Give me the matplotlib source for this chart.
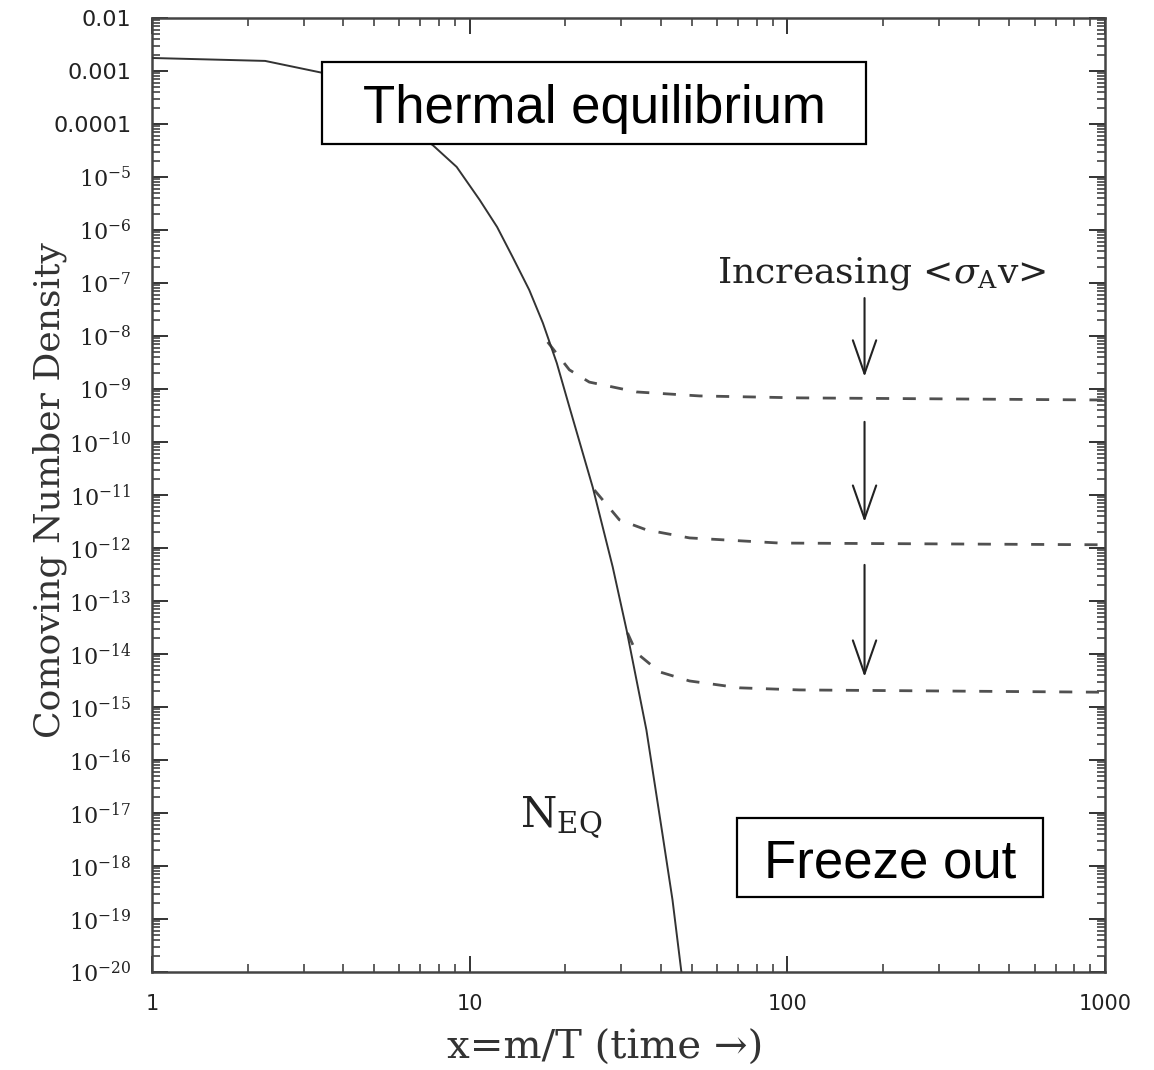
import numpy as np
import matplotlib
matplotlib.use("Agg")
import matplotlib.pyplot as plt
from matplotlib.patches import Rectangle
from matplotlib.ticker import LogLocator, NullFormatter

plt.rcParams["mathtext.fontset"] = "dejavuserif"

# equilibrium density N_EQ
neq_x = [1.0, 2.27, 3.45, 7.65, 9.10, 10.75, 12.2, 13.65, 15.4, 17.0, 18.8, 20.6,
         24.4, 28.2, 31.2, 36.0, 40.4, 43.5, 46.4]
neq_y = [1.76e-3, 1.55e-3, 9.2e-4, 4.0e-5, 1.55e-5, 3.7e-6, 1.14e-6, 3.1e-7, 7.4e-8,
         1.76e-8, 3.1e-9, 4.6e-10, 1.4e-11, 4.4e-13, 2.8e-14, 3.7e-16, 4.2e-18,
         2.3e-19, 1e-20]

# freeze-out branches, smallest <sigma v> first
fo1_x = [17.6, 20.6, 23.8, 33.5, 52.9, 109, 1000]
fo1_y = [7.7e-9, 2.3e-9, 1.35e-9, 8.8e-10, 7.4e-10, 6.8e-10, 6.2e-10]
fo2_x = [24.7, 29.6, 36.0, 49.2, 94.4, 1000]
fo2_y = [1.24e-11, 3.4e-12, 2.2e-12, 1.55e-12, 1.24e-12, 1.15e-12]
fo3_x = [31.4, 33.5, 39.6, 49.2, 70.7, 109, 1000]
fo3_y = [2.5e-14, 1.05e-14, 4.6e-15, 3.1e-15, 2.3e-15, 2.1e-15, 1.9e-15]

# arrows "increasing <sigma v>"
arrow_x = 175
arrow_top = [5.2e-8, 2.4e-10, 4.8e-13]
arrow_tip = [1.7e-9, 3.1e-12, 3.7e-15]

x_ticks = [1, 10, 100, 1000]
x_ticklabels = ["1", "10", "100", "1000"]
y_exps = list(range(-2, -21, -1))
y_ticklabels = ["0.01", "0.001", "0.0001"] + [r"$10^{%d}$" % e for e in y_exps[3:]]

W, H = 1154, 1070
fig = plt.figure(figsize=(W / 100, H / 100), dpi=100)
ax = fig.add_axes([152 / W, 1 - 972 / H, (1105 - 152) / W, (972 - 18) / H])
ax.set_xscale("log")
ax.set_yscale("log")
ax.set_xlim(1, 1000)
ax.set_ylim(1e-20, 1e-2)

ax.plot(neq_x, neq_y, color="#333333", lw=1.4, zorder=3)
for fx, fy in [(fo1_x, fo1_y), (fo2_x, fo2_y), (fo3_x, fo3_y)]:
    ax.plot(fx, fy, color="#505050", lw=2.0, dashes=(4.7, 4.9), zorder=2)

for top, tip in zip(arrow_top, arrow_tip):
    ax.annotate("", xy=(arrow_x, tip), xytext=(arrow_x, top),
                arrowprops=dict(arrowstyle="->,head_length=1.2,head_width=0.42",
                                lw=1.5, color="#222222", mutation_scale=20,
                                shrinkA=0, shrinkB=0))

ax.text(197.6, 1e-7, r"Increasing <$\sigma_{\rm A}$v>", ha="center", va="baseline",
        family="DejaVu Serif", fontsize=26, color="#222222")
ax.text(14.4, 5.2e-18, r"$\mathrm{N}_{\mathrm{EQ}}$", ha="left", va="baseline",
        fontsize=30, color="#222222")

# ticks
ax.set_xticks(x_ticks)
ax.set_xticklabels(x_ticklabels)
ax.set_yticks([10.0 ** e for e in y_exps])
ax.set_yticklabels(y_ticklabels)
ax.xaxis.set_minor_locator(LogLocator(base=10, subs=np.arange(2, 10), numticks=100))
ax.yaxis.set_minor_locator(LogLocator(base=10, subs=np.arange(2, 10), numticks=100))
ax.xaxis.set_minor_formatter(NullFormatter())
ax.yaxis.set_minor_formatter(NullFormatter())
ax.tick_params(which="both", direction="in", top=True, right=True,
               color="#333333", labelcolor="#222222")
ax.tick_params(which="major", length=11.5, width=1.4, labelsize=16)
ax.tick_params(which="minor", length=6, width=1.1)
ax.tick_params(axis="x", which="major", pad=16, labelsize=15)
ax.tick_params(axis="y", which="major", pad=15)
for s in ax.spines.values():
    s.set_linewidth(1.8)
    s.set_color("#444444")

fig.text(50 / W, 1 - 490 / H, "Comoving Number Density", rotation=90,
         ha="center", va="center", family="DejaVu Serif", fontsize=26, color="#333333")
fig.text(605 / W, 1 - 1048 / H, "x=m/T (time \u2192)", ha="center", va="center",
         family="DejaVu Serif", fontsize=29, color="#333333")

# annotation boxes
boxes = [((322, 62, 866, 144), "Thermal equilibrium", 123),
         ((737, 818, 1043, 897), "Freeze out", 878)]
for (x0, y0, x1, y1), label, base in boxes:
    fig.add_artist(Rectangle((x0 / W, 1 - y1 / H), (x1 - x0) / W, (y1 - y0) / H,
                             transform=fig.transFigure, facecolor="white",
                             edgecolor="black", lw=1.6, zorder=5))
    fig.text((x0 + x1) / 2 / W, 1 - base / H, label, ha="center", va="baseline",
             family="Liberation Sans", fontsize=38, color="black", zorder=6)

fig.savefig("out.png", dpi=100)
